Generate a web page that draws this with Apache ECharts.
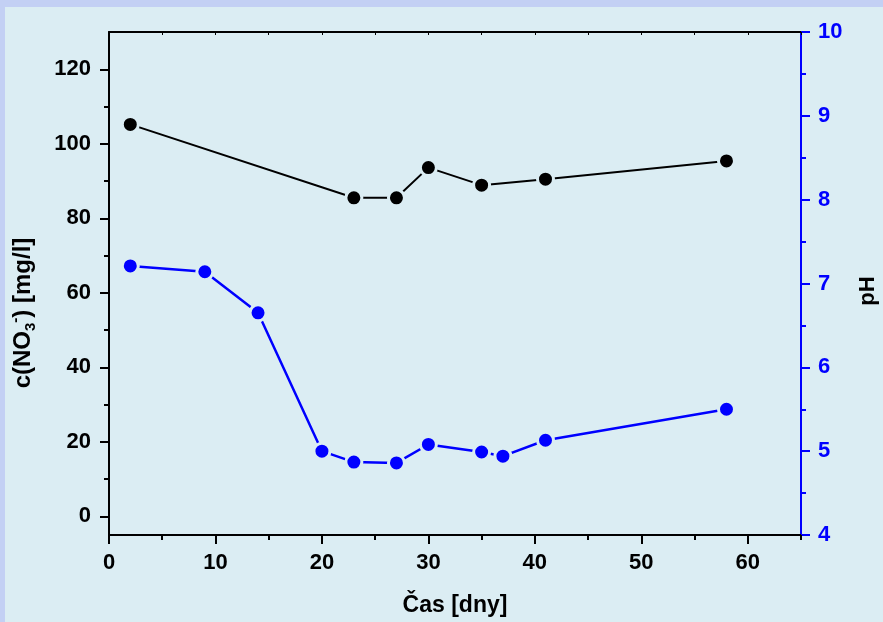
<!DOCTYPE html>
<html>
<head>
<meta charset="utf-8">
<script src="https://cdn.jsdelivr.net/npm/echarts@6/dist/echarts.min.js"></script>
<style>html,body{margin:0;padding:0;background:#dbedf3;}#c{width:883px;height:622px;}</style>
</head>
<body>
<div id="c"></div>
<script>
// Data
const no3Days = [2, 23, 27, 30, 35, 41, 58];
const no3Values = [105.2, 85.5, 85.5, 93.6, 88.9, 90.5, 95.4];
const phDays = [2, 9, 14, 20, 23, 27, 30, 35, 37, 41, 58];
const phValues = [7.21, 7.14, 6.65, 5.0, 4.87, 4.86, 5.08, 4.99, 4.94, 5.13, 5.5];
const xTickLabels = [0, 10, 20, 30, 40, 50, 60];
const xMinorTicks = [5, 15, 25, 35, 45, 55, 65];
const leftTickLabels = [0, 20, 40, 60, 80, 100, 120];
const leftMinorTicks = [10, 30, 50, 70, 90, 110];

const BG = '#dbedf3';
const FONT = 'Liberation Sans, Arial, sans-serif';
const chart = echarts.init(document.getElementById('c'));

const tickLabelStyle = (color) => ({ fontFamily: FONT, fontWeight: 'bold', fontSize: 22, color: color });

chart.setOption({
  animation: false,
  backgroundColor: BG,
  grid: { left: 109, right: 82, top: 32, bottom: 87 },
  graphic: [
    { type: 'rect', shape: { x: 0, y: 0, width: 883, height: 7 }, style: { fill: '#c3d0f4' }, z: -10 },
    { type: 'rect', shape: { x: 0, y: 0, width: 5, height: 622 }, style: { fill: '#c3d0f4' }, z: -10 },
    {
      type: 'text', x: 23, y: 313, rotation: Math.PI / 2,
      style: {
        text: '{a|c(NO}{s|3}{p|-}{a|) [mg/l]}',
        align: 'center', verticalAlign: 'middle',
        rich: {
          a: { fontFamily: FONT, fontWeight: 'bold', fontSize: 24, lineHeight: 30, fill: '#000' },
          s: { fontFamily: FONT, fontWeight: 'bold', fontSize: 15, lineHeight: 15, verticalAlign: 'bottom', fill: '#000' },
          p: { fontFamily: FONT, fontWeight: 'bold', fontSize: 15, lineHeight: 15, verticalAlign: 'top', fill: '#000' }
        }
      }
    },
    {
      type: 'text', x: 868, y: 291, rotation: Math.PI / 2,
      style: { text: 'pH', align: 'center', verticalAlign: 'middle', fontFamily: FONT, fontWeight: 'bold', fontSize: 22, fill: '#000' }
    }
  ],
  xAxis: [
    {
      type: 'value', position: 'bottom', min: 0, max: 65,
      name: 'Čas [dny]', nameLocation: 'middle', nameGap: 59,
      nameTextStyle: { fontFamily: FONT, fontWeight: 'bold', fontSize: 23, color: '#000' },
      axisLine: { show: true, onZero: false, lineStyle: { color: '#000', width: 2 } },
      axisTick: { show: true, length: 9, customValues: xTickLabels, lineStyle: { color: '#000', width: 2 } },
      axisLabel: Object.assign({ customValues: xTickLabels, margin: 17 }, tickLabelStyle('#000')),
      splitLine: { show: false }
    },
    {
      type: 'value', position: 'bottom', min: 0, max: 65,
      axisLine: { show: false, onZero: false },
      axisTick: { show: true, length: 5, customValues: xMinorTicks, lineStyle: { color: '#000', width: 2 } },
      axisLabel: { show: false },
      splitLine: { show: false }
    },
    {
      type: 'value', position: 'top', min: 0, max: 65,
      axisLine: { show: true, onZero: false, lineStyle: { color: '#000', width: 2 } },
      axisTick: { show: true, inside: true, length: 3, customValues: xMinorTicks.concat(xTickLabels), lineStyle: { color: '#000', width: 1 } },
      axisLabel: { show: false },
      splitLine: { show: false }
    }
  ],
  yAxis: [
    {
      type: 'value', position: 'left', min: -5, max: 130,
      axisLine: { show: true, onZero: false, lineStyle: { color: '#000', width: 2 } },
      axisTick: { show: true, length: 9, customValues: leftTickLabels, lineStyle: { color: '#000', width: 2 } },
      axisLabel: Object.assign({ customValues: leftTickLabels, margin: 18 }, tickLabelStyle('#000')),
      splitLine: { show: false }
    },
    {
      type: 'value', position: 'left', min: -5, max: 130,
      axisLine: { show: false, onZero: false },
      axisTick: { show: true, length: 5, customValues: leftMinorTicks, lineStyle: { color: '#000', width: 2 } },
      axisLabel: { show: false },
      splitLine: { show: false }
    },
    {
      type: 'value', position: 'right', min: 4, max: 10, interval: 1,
      axisLine: { show: true, onZero: false, lineStyle: { color: '#0000ff', width: 2 } },
      axisTick: { show: true, length: 9, lineStyle: { color: '#0000ff', width: 2 } },
      minorTick: { show: true, splitNumber: 2, length: 5, lineStyle: { color: '#0000ff', width: 2 } },
      axisLabel: Object.assign({ margin: 17 }, tickLabelStyle('#0000ff')),
      splitLine: { show: false }
    }
  ],
  series: [
    {
      type: 'line', name: 'NO3', xAxisIndex: 0, yAxisIndex: 0,
      data: no3Days.map((d, i) => [d, no3Values[i]]),
      symbol: 'circle', symbolSize: 16,
      lineStyle: { color: '#000', width: 2 },
      itemStyle: { color: '#000', borderColor: BG, borderWidth: 3 },
      z: 3
    },
    {
      type: 'line', name: 'pH', xAxisIndex: 0, yAxisIndex: 2,
      data: phDays.map((d, i) => [d, phValues[i]]),
      symbol: 'circle', symbolSize: 16,
      lineStyle: { color: '#0000ff', width: 2.5 },
      itemStyle: { color: '#0000ff', borderColor: BG, borderWidth: 3 },
      z: 3
    }
  ]
});
</script>
</body>
</html>
